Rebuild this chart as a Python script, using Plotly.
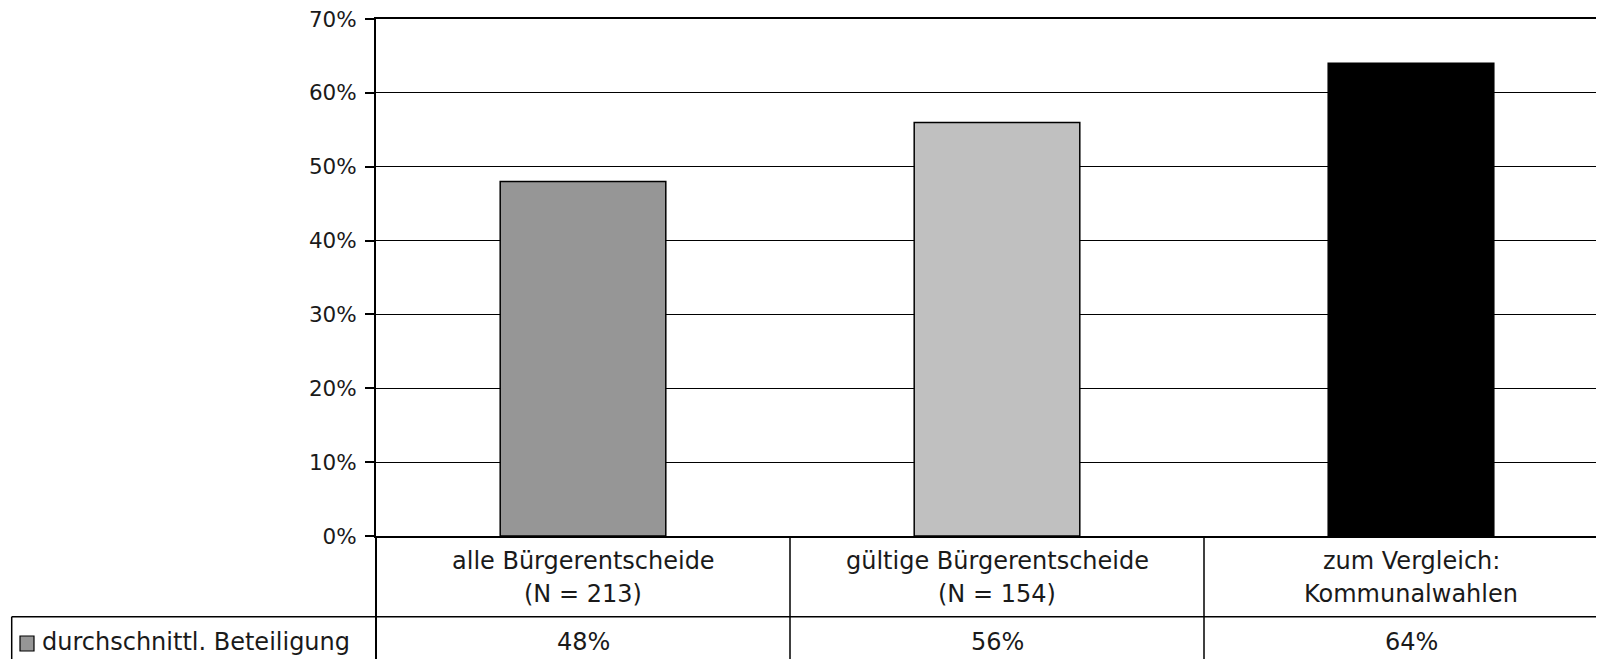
import plotly.graph_objects as go

# ---- data ----
categories = ["alle Bürgerentscheide<br>(N = 213)",
              "gültige Bürgerentscheide<br>(N = 154)",
              "zum Vergleich:<br>Kommunalwahlen"]
values = [48, 56, 64]
bar_colors = ["#969696", "#C0C0C0", "#000000"]
series_name = "durchschnittl. Beteiligung"
y_ticks = [0, 10, 20, 30, 40, 50, 60, 70]
y_ticktext = [f"{t}%" for t in y_ticks]

# ---- layout geometry (screen pixels; page body has an 8px margin) ----
OFF = 8
SW, SH = 1604, 659
W, H = SW - OFF, SH - OFF
PLOT_LEFT, PLOT_TOP, PLOT_BOTTOM = 376, 19, 536   # screen px
L = PLOT_LEFT - OFF
T = PLOT_TOP - OFF
B = SH - PLOT_BOTTOM
PH = H - T - B
PW = W - L
CAT_W = 414.0           # pixel width per category (chart is cut at right)
x_end = PW / CAT_W - 0.5

FONT = "DejaVu Sans"
TXT = "#1a1a1a"
TABLE_FS = 24

def py(px):  # screen pixel y -> paper y
    return (PLOT_BOTTOM - px) / PH

def pxp(px):  # screen pixel x -> paper x
    return (px - PLOT_LEFT) / PW

fig = go.Figure()
fig.add_trace(go.Bar(
    x=list(range(len(values))), y=values, width=0.4,
    marker=dict(color=bar_colors, line=dict(color="black", width=1.5)),
    name=series_name, showlegend=False, hoverinfo="skip"))

fig.update_layout(
    width=W, height=H,
    margin=dict(l=L, r=0, t=T, b=B, pad=0),
    plot_bgcolor="white", paper_bgcolor="white",
    font=dict(family=FONT, color="black"),
    xaxis=dict(range=[-0.5, x_end], showticklabels=False, showgrid=False,
               zeroline=False, showline=True, linecolor="black", linewidth=2,
               mirror=True, ticks=""),
    yaxis=dict(range=[0, 70], tickvals=y_ticks, ticktext=y_ticktext,
               showgrid=True, gridcolor="black", gridwidth=1.3,
               zeroline=False, showline=True, linecolor="black", linewidth=2,
               ticks="outside", ticklen=9, tickwidth=1.5, tickcolor="black",
               tickfont=dict(size=21.5, family=FONT, color=TXT),
               ticklabelstandoff=4, ticklabeloverflow="allow"),
)

shapes = []
line = dict(color="black", width=1.5)
row_mid = 616.7
bottom = 670
# table horizontal line between rows
shapes.append(dict(type="line", xref="paper", yref="paper",
                   x0=pxp(11.7), x1=1.0, y0=py(row_mid), y1=py(row_mid), line=line))
# left border of the legend cell
shapes.append(dict(type="line", xref="paper", yref="paper",
                   x0=pxp(11.7), x1=pxp(11.7), y0=py(row_mid), y1=py(bottom), line=line))
# vertical line under y-axis
shapes.append(dict(type="line", xref="paper", yref="paper",
                   x0=0, x1=0, y0=0, y1=py(bottom), line=dict(color="black", width=2)))
# column separators
for i in range(1, len(values)):
    shapes.append(dict(type="line", xref="x", yref="paper",
                       x0=i - 0.5, x1=i - 0.5, y0=0, y1=py(bottom), line=line))
# legend key square
shapes.append(dict(type="rect", xref="paper", yref="paper",
                   x0=pxp(20), x1=pxp(34), y0=py(651), y1=py(636),
                   fillcolor=bar_colors[0], line=dict(color="black", width=1.2)))

annotations = []
for i, cat in enumerate(categories):
    parts = cat.split("<br>")
    ys = [561, 594] if len(parts) == 2 else [577]
    for part, ypx in zip(parts, ys):
        annotations.append(dict(x=i, xref="x", y=py(ypx), yref="paper",
                                text=part, showarrow=False, xanchor="center",
                                yanchor="middle",
                                font=dict(size=TABLE_FS, family=FONT, color=TXT)))
    annotations.append(dict(x=i, xref="x", y=py(642), yref="paper",
                            text=f"{values[i]}%", showarrow=False,
                            xanchor="center", yanchor="middle",
                            font=dict(size=TABLE_FS, family=FONT, color=TXT)))
annotations.append(dict(x=pxp(40), xref="paper", y=py(642), yref="paper",
                        text=series_name, showarrow=False, xanchor="left",
                        yanchor="middle",
                        font=dict(size=TABLE_FS, family=FONT, color=TXT)))

fig.update_layout(shapes=shapes, annotations=annotations)
fig.write_html("out.html")
